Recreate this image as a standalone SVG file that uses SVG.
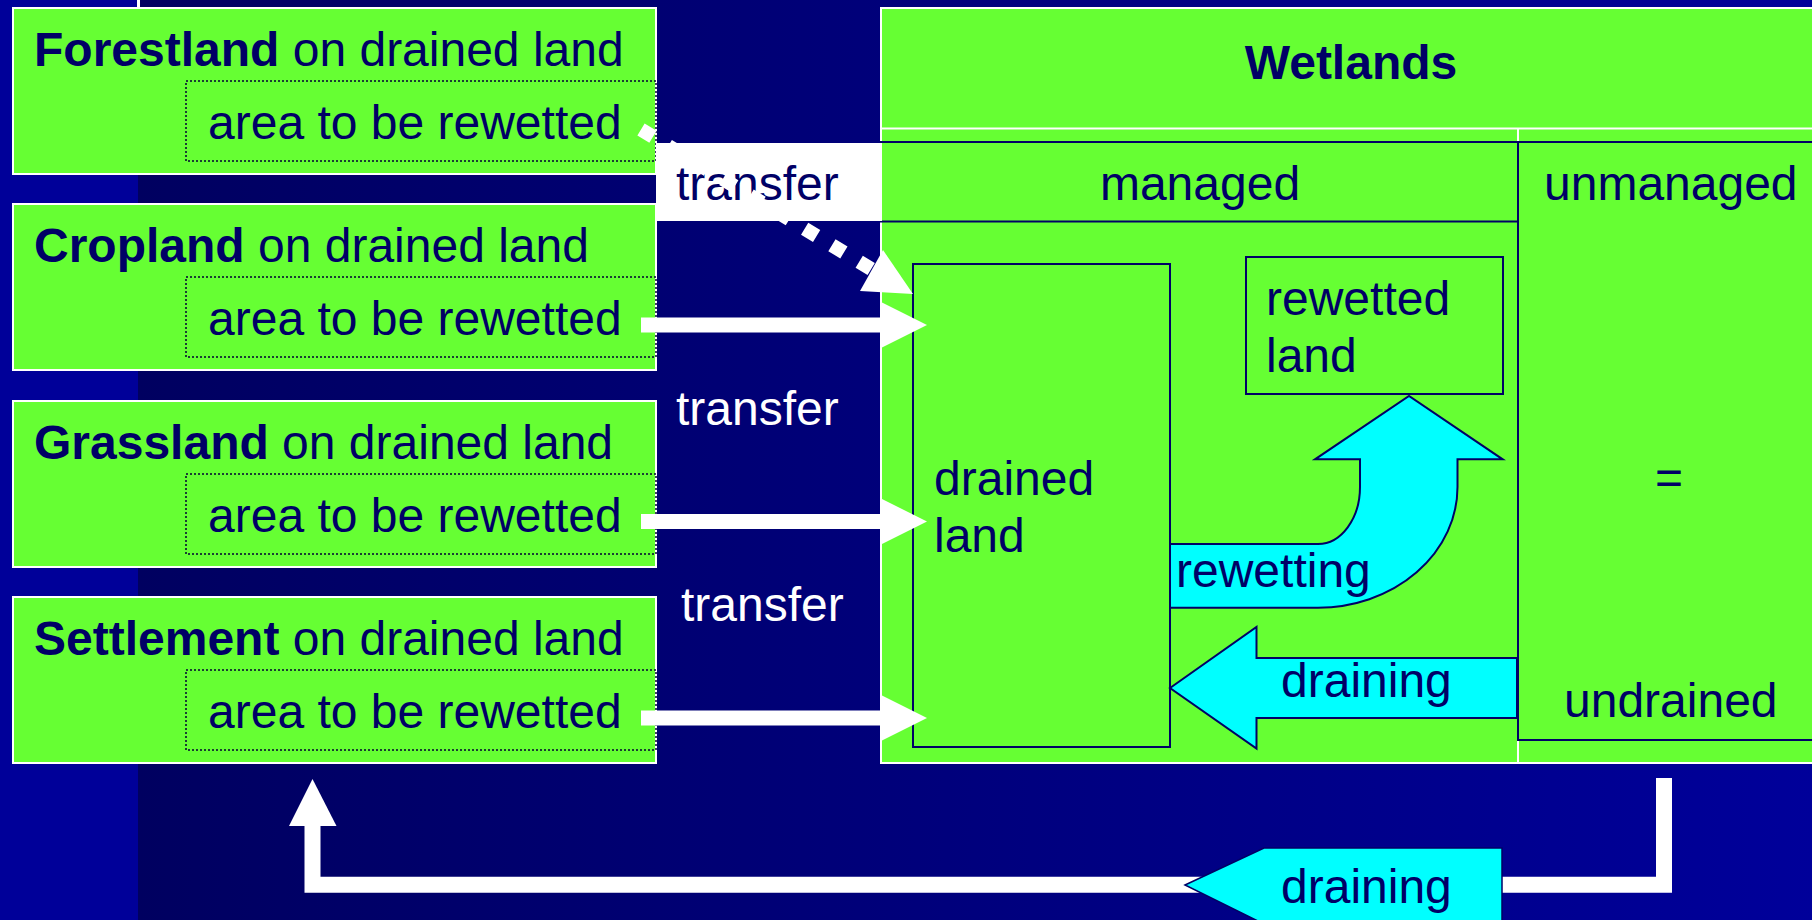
<svg xmlns="http://www.w3.org/2000/svg" width="1812" height="920" viewBox="0 0 1812 920">
<defs>
<linearGradient id="bg" x1="0" y1="0" x2="1" y2="0">
<stop offset="0" stop-color="#000060"/>
<stop offset="1" stop-color="#00009A"/>
</linearGradient>
<style>
text{font-family:"Liberation Sans",Arial,sans-serif;font-size:48px;fill:#000066}
.b{font-weight:bold}
.w{fill:#ffffff}
.land{fill:#66FF33;stroke:#ffffff;stroke-width:2}
.dot{fill:none;stroke:#000033;stroke-width:1.5;stroke-dasharray:2 2}
.nv{fill:none;stroke:#000066;stroke-width:2}
.nvg{fill:#66FF33;stroke:#000066;stroke-width:2}
.cy{fill:#00FFFF;stroke:#000066;stroke-width:2;stroke-linejoin:miter}
.wa{fill:#ffffff}
</style>
</defs>
<rect width="1812" height="920" fill="#000099"/>
<rect x="138" y="0" width="1674" height="920" fill="url(#bg)"/>
<line x1="138.5" y1="0" x2="138.5" y2="8" stroke="#ffffff" stroke-width="3"/>

<g id="forestland">
<rect class="land" x="13" y="8" width="643" height="166"/>
<rect class="dot" x="186" y="81" width="470" height="80"/>
<text x="34" y="66"><tspan class="b">Forestland</tspan> on drained land</text>
<text x="208" y="139">area to be rewetted</text>
</g>
<g id="cropland">
<rect class="land" x="13" y="204" width="643" height="166"/>
<rect class="dot" x="186" y="277" width="470" height="80"/>
<text x="34" y="262"><tspan class="b">Cropland</tspan> on drained land</text>
<text x="208" y="335">area to be rewetted</text>
</g>
<g id="grassland">
<rect class="land" x="13" y="401" width="643" height="166"/>
<rect class="dot" x="186" y="474" width="470" height="80"/>
<text x="34" y="459"><tspan class="b">Grassland</tspan> on drained land</text>
<text x="208" y="532">area to be rewetted</text>
</g>
<g id="settlement">
<rect class="land" x="13" y="597" width="643" height="166"/>
<rect class="dot" x="186" y="670" width="470" height="80"/>
<text x="34" y="655"><tspan class="b">Settlement</tspan> on drained land</text>
<text x="208" y="728">area to be rewetted</text>
</g>

<g id="wetlands">
<rect class="land" x="881" y="8" width="945" height="755"/>
<line x1="881" y1="128.5" x2="1812" y2="128.5" stroke="#ffffff" stroke-width="2"/>
<line x1="1518" y1="128" x2="1518" y2="763" stroke="#ffffff" stroke-width="2"/>
<text class="b" x="1351" y="79" text-anchor="middle">Wetlands</text>
</g>
<g id="managed">
<rect class="nv" x="881" y="142" width="637" height="79.5"/>
<text x="1200" y="200" text-anchor="middle">managed</text>
</g>
<g id="unmanaged">
<rect class="nv" x="1518" y="142" width="310" height="598"/>
<text x="1544" y="200">unmanaged</text>
<text x="1669" y="494" text-anchor="middle">=</text>
<text x="1564" y="717">undrained</text>
</g>
<g id="drained-land">
<rect class="nvg" x="913" y="264" width="257" height="483"/>
<text x="934" y="495">drained</text>
<text x="934" y="552">land</text>
</g>
<g id="rewetted-land">
<rect class="nvg" x="1246" y="257" width="257" height="137"/>
<text x="1266" y="315">rewetted</text>
<text x="1266" y="372">land</text>
</g>

<g id="transfer-label">
<rect x="656" y="143" width="226" height="78" fill="#ffffff"/>
<text x="676" y="200">transfer</text>
</g>

<g id="connectors">
<path class="wa" d="M641,317.5 H881 V302 L927,325 L881,348 V332.5 H641 Z"/>
<path class="wa" d="M641,514 H881 V498.5 L927,521.5 L881,544.5 V529 H641 Z"/>
<path class="wa" d="M641,710.5 H881 V695 L927,718 L881,741 V725.5 H641 Z"/>
<text class="w" x="676" y="425">transfer</text>
<text class="w" x="681" y="621">transfer</text>
<line x1="641" y1="129.4" x2="872" y2="269.5" stroke="#ffffff" stroke-width="14" stroke-dasharray="14 17.9"/>
<polygon class="wa" points="883,250 913,294 860,291"/>

<path class="cy" d="M1170,544 H1318 A42,57 0 0 0 1360,487 V459.3 H1315 L1409,396 L1502.7,459.3 H1457.5 V487 A139.5,120.7 0 0 1 1318,607.7 H1170 Z"/>
<text x="1176" y="587">rewetting</text>

<polygon class="cy" points="1170,688 1256.5,627 1256.5,658 1517,658 1517,718 1256.5,718 1256.5,748.5"/>
<text x="1281" y="697">draining</text>

<path d="M1664,778 V884.7 H312.5 V824" fill="none" stroke="#ffffff" stroke-width="16" stroke-linejoin="miter"/>
<polygon class="wa" points="312.5,779 336.5,826 289,826"/>
<polygon fill="#00FFFF" stroke="#000066" stroke-width="1.5" points="1185,885 1264,848 1502,848 1502,924 1264,924"/>
<text x="1281" y="903">draining</text>
</g>
</svg>
